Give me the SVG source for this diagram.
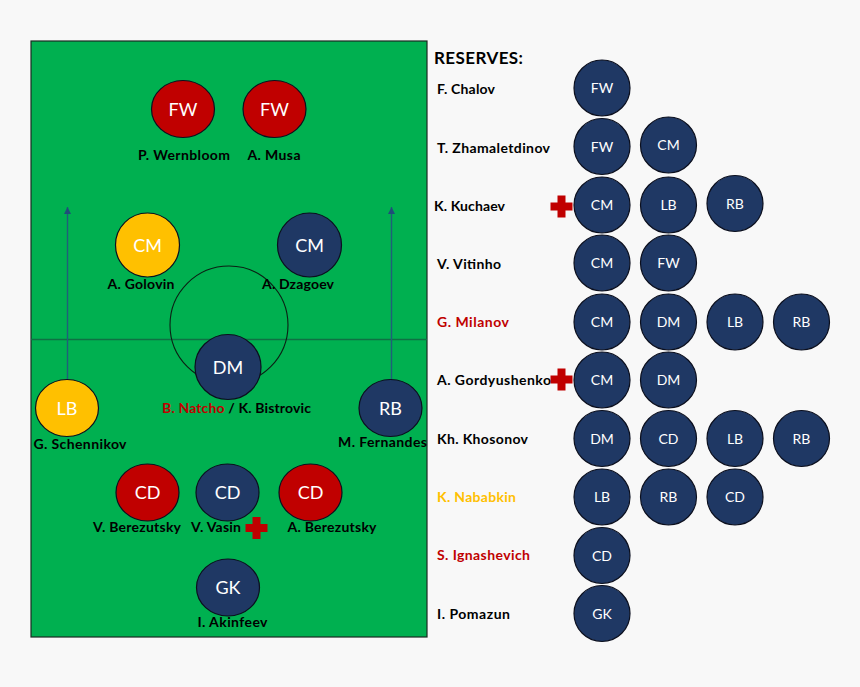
<svg xmlns="http://www.w3.org/2000/svg" width="860" height="687" viewBox="0 0 860 687">
<style>
text{font-family:"Lato","Open Sans",sans-serif}
.l{font-size:14px;font-weight:700;fill:#000}
.m{text-anchor:middle}
.big{font-size:18px;fill:#fff;text-anchor:middle}
.sm{font-size:14px;fill:#fff;text-anchor:middle}
.n{fill:#1f3864;stroke:#0b0f1e;stroke-width:1.2}
.r{fill:#c00000;stroke:#0b0f1e;stroke-width:1.2}
.y{fill:#ffc000;stroke:#0b0f1e;stroke-width:1.2}
.red{fill:#c00000}
.gold{fill:#ffc000}
</style>
<defs>
<marker id="a" markerUnits="userSpaceOnUse" markerWidth="8" markerHeight="8" refX="7" refY="3.500" orient="auto"><path d="M0 0L7 3.500L0 7z" fill="#1f4e79"/></marker>
<path id="cross" d="M-4-11H4V-4H11V4H4V11H-4V4H-11V-4H-4z" fill="#c00000"/>
</defs>
<rect width="860" height="687" fill="#f8f8f8"/>
<g id="pitch">
<rect x="31" y="41" width="396" height="596" fill="#00b050" stroke="#1a2b22" stroke-width="1.2"/>
<line x1="31" y1="339.500" x2="427" y2="339.500" stroke="#0f7043" stroke-width="1.5"/>
<circle cx="229" cy="325" r="59" fill="none" stroke="#0b1f14" stroke-width="1.1"/>
</g>
<g id="connectors">
<line x1="67.500" y1="380" x2="67.500" y2="207" stroke="#1f5f7a" stroke-width="1.4" marker-end="url(#a)"/>
<line x1="391.500" y1="380" x2="391.500" y2="207" stroke="#1f5f7a" stroke-width="1.4" marker-end="url(#a)"/>
</g>
<g id="p-wernbloom"><ellipse class="r" cx="183" cy="109" rx="31.500" ry="28.500"/><text class="big" x="183" y="116">FW</text><text class="l m" x="184" y="160" textLength="92">P. Wernbloom</text></g>
<g id="a-musa"><ellipse class="r" cx="274.500" cy="109" rx="31.500" ry="28.500"/><text class="big" x="274.500" y="116">FW</text><text class="l m" x="274" y="160" textLength="53">A. Musa</text></g>
<g id="a-golovin"><ellipse class="y" cx="147.500" cy="245" rx="32" ry="32"/><text class="big" x="147.500" y="252">CM</text><text class="l m" x="141" y="289" textLength="67">A. Golovin</text></g>
<g id="a-dzagoev"><ellipse class="n" cx="309.500" cy="245" rx="32" ry="32"/><text class="big" x="309.500" y="252">CM</text><text class="l m" x="298" y="289" textLength="72">A. Dzagoev</text></g>
<g id="dm"><ellipse class="n" cx="228" cy="367" rx="33" ry="32.500"/><text class="big" x="228" y="374">DM</text><text class="l" x="162" y="413" textLength="149"><tspan class="red">B. Natcho</tspan> / K. Bistrovic</text></g>
<g id="g-schennikov"><ellipse class="y" cx="67" cy="408" rx="31.500" ry="28.500"/><text class="big" x="67" y="415">LB</text><text class="l m" x="80" y="449" textLength="93">G. Schennikov</text></g>
<g id="m-fernandes"><ellipse class="n" cx="390.500" cy="408" rx="31.500" ry="28.500"/><text class="big" x="390.500" y="415">RB</text><text class="l m" x="382.500" y="447" textLength="89">M. Fernandes</text></g>
<g id="v-berezutsky"><ellipse class="r" cx="147.500" cy="492.500" rx="31.500" ry="28.500"/><text class="big" x="147.500" y="499">CD</text><text class="l m" x="137" y="532" textLength="88">V. Berezutsky</text></g>
<g id="v-vasin"><ellipse class="n" cx="227.500" cy="492.500" rx="31.500" ry="28.500"/><text class="big" x="227.500" y="499">CD</text><text class="l" x="191" y="532" textLength="50">V. Vasin</text><use href="#cross" x="256.500" y="528"/></g>
<g id="a-berezutsky"><ellipse class="r" cx="310.500" cy="492.500" rx="31.500" ry="28.500"/><text class="big" x="310.500" y="499">CD</text><text class="l m" x="332" y="532" textLength="89">A. Berezutsky</text></g>
<g id="i-akinfeev"><ellipse class="n" cx="228" cy="587.500" rx="31.500" ry="28.500"/><text class="big" x="228" y="594">GK</text><text class="l m" x="232.500" y="627" textLength="70">I. Akinfeev</text></g>
<text x="434" y="64" font-size="17" font-weight="700" fill="#000" textLength="89">RESERVES:</text>
<g id="r-chalov"><text class="l" x="437" y="94" textLength="58">F. Chalov</text><circle class="n" cx="602" cy="88" r="28"/><text class="sm" x="602" y="93">FW</text></g>
<g id="r-zhamaletdinov"><text class="l" x="437" y="153" textLength="113">T. Zhamaletdinov</text><circle class="n" cx="602" cy="146.500" r="28"/><text class="sm" x="602" y="151.500">FW</text><circle class="n" cx="668.500" cy="145" r="28"/><text class="sm" x="668.500" y="150">CM</text></g>
<g id="r-kuchaev"><text class="l" x="434" y="211" textLength="71">K. Kuchaev</text><use href="#cross" x="561.500" y="206.500"/><circle class="n" cx="602" cy="205" r="28"/><text class="sm" x="602" y="210">CM</text><circle class="n" cx="668.500" cy="205" r="28"/><text class="sm" x="668.500" y="210">LB</text><circle class="n" cx="735" cy="203.500" r="28"/><text class="sm" x="735" y="208.500">RB</text></g>
<g id="r-vitinho"><text class="l" x="437" y="269" textLength="64">V. Vitinho</text><circle class="n" cx="602" cy="263" r="28"/><text class="sm" x="602" y="268">CM</text><circle class="n" cx="668.500" cy="263" r="28"/><text class="sm" x="668.500" y="268">FW</text></g>
<g id="r-milanov"><text class="l red" x="437" y="327" textLength="72">G. Milanov</text><circle class="n" cx="602" cy="322" r="28"/><text class="sm" x="602" y="327">CM</text><circle class="n" cx="668.500" cy="322" r="28"/><text class="sm" x="668.500" y="327">DM</text><circle class="n" cx="735" cy="322" r="28"/><text class="sm" x="735" y="327">LB</text><circle class="n" cx="801.500" cy="322" r="28"/><text class="sm" x="801.500" y="327">RB</text></g>
<g id="r-gordyushenko"><text class="l" x="437" y="385" textLength="114">A. Gordyushenko</text><use href="#cross" x="561.500" y="379.500"/><circle class="n" cx="602" cy="380" r="28"/><text class="sm" x="602" y="385">CM</text><circle class="n" cx="668.500" cy="380" r="28"/><text class="sm" x="668.500" y="385">DM</text></g>
<g id="r-khosonov"><text class="l" x="437" y="444" textLength="91">Kh. Khosonov</text><circle class="n" cx="602" cy="438.500" r="28"/><text class="sm" x="602" y="443.500">DM</text><circle class="n" cx="668.500" cy="438.500" r="28"/><text class="sm" x="668.500" y="443.500">CD</text><circle class="n" cx="735" cy="438.500" r="28"/><text class="sm" x="735" y="443.500">LB</text><circle class="n" cx="801.500" cy="438.500" r="28"/><text class="sm" x="801.500" y="443.500">RB</text></g>
<g id="r-nababkin"><text class="l gold" x="437" y="502" textLength="79">K. Nababkin</text><circle class="n" cx="602" cy="497" r="28"/><text class="sm" x="602" y="502">LB</text><circle class="n" cx="668.500" cy="497" r="28"/><text class="sm" x="668.500" y="502">RB</text><circle class="n" cx="735" cy="497" r="28"/><text class="sm" x="735" y="502">CD</text></g>
<g id="r-ignashevich"><text class="l red" x="437" y="560" textLength="93">S. Ignashevich</text><circle class="n" cx="602" cy="555.500" r="28"/><text class="sm" x="602" y="560.500">CD</text></g>
<g id="r-pomazun"><text class="l" x="437" y="619" textLength="73">I. Pomazun</text><circle class="n" cx="602" cy="613.500" r="28"/><text class="sm" x="602" y="618.500">GK</text></g>
</svg>
